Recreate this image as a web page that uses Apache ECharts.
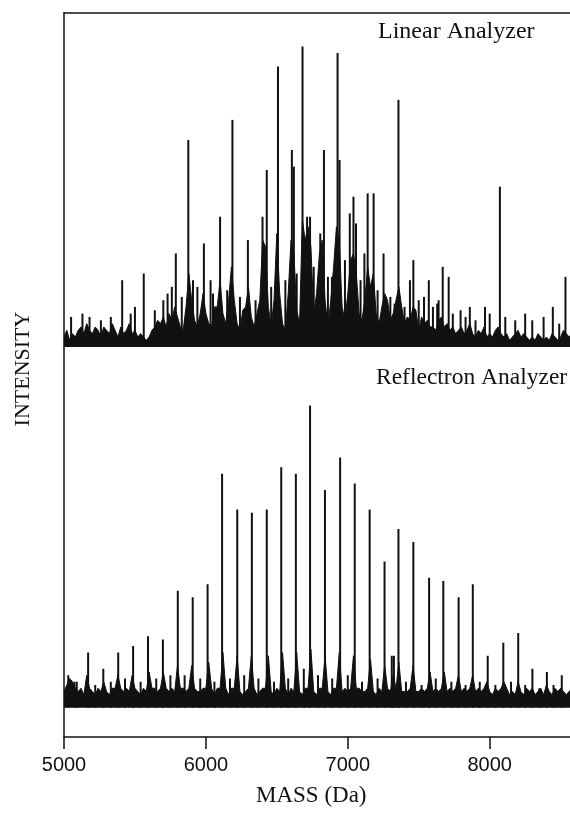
<!DOCTYPE html>
<html>
<head>
<meta charset="utf-8">
<script src="https://cdn.jsdelivr.net/npm/echarts@6/dist/echarts.min.js"></script>
<style>
  html, body { margin: 0; padding: 0; background: #fff; }
  #chart { width: 570px; height: 814px; }
</style>
</head>
<body>
<div id="chart"></div>
<script>
// x range (Da) and tick labels
var massMin = 5000;
var massMax = 8566;
var massTicks = [5000, 6000, 7000, 8000];

// noise floor, one value every 20 Da starting at 5000
var envStep = 20;
var linearEnvelope = [
  3, 5, 2, 4, 3,   5, 6, 4, 7, 5,   4, 6, 5, 3, 6,   5, 4, 7, 5, 3,
  6, 4, 5, 7, 4,   5, 3, 4, 3, 2,   3, 5, 6, 8, 7,   9, 6, 10, 8, 12,
  9, 6, 5, 12, 22, 14, 8, 6, 10, 16, 10, 7, 6, 12, 12, 20, 10, 7, 14, 24,
  14, 7, 5, 11, 12, 18, 9, 6, 10, 14, 32, 30, 12, 6, 14, 34, 16, 7, 5, 16,
  32, 28, 11, 7, 38, 32, 36, 30, 10, 16, 28, 32, 14, 6, 14, 24, 36, 32, 12, 8,
  16, 26, 28, 22, 10, 8, 14, 24, 18, 22, 10, 7, 12, 16, 14, 8, 10, 14, 18, 12,
  7, 9, 8, 12, 11, 5, 9, 7, 8, 6,   6, 5, 8, 9, 6,   7, 5, 6, 4, 5,
  6, 4, 5, 7, 4,   3, 5, 4, 6, 3,   4, 3, 5, 6, 4,   3, 4, 2, 3, 4,
  5, 3, 4, 3, 2,   3, 2, 4, 3, 2,   3, 2, 4, 3, 2,   3, 5, 4, 3, 4
];
var reflectronEnvelope = [
  5, 7, 9, 8, 6,   5, 6, 4, 10, 6,  5, 4, 6, 5, 8,   5, 4, 6, 6, 10,
  6, 5, 6, 5, 10,  6, 5, 4, 6, 5,   11, 6, 6, 5, 6,  11, 6, 5, 6, 5,
  13, 6, 6, 5, 6,  13, 6, 5, 5, 6,  6, 14, 6, 4, 6,  6, 17, 6, 4, 6,
  6, 16, 5, 4, 5,  6, 16, 6, 4, 5,  6, 6, 16, 5, 4,  6, 5, 17, 6, 4,
  6, 5, 17, 5, 4,  6, 6, 18, 5, 4,  6, 6, 16, 5, 4,  6, 6, 17, 5, 6,
  5, 6, 16, 6, 6,  5, 5, 6, 15, 5,  4, 6, 5, 13, 6,  5, 10, 6, 14, 5,
  5, 5, 6, 13, 5,  5, 6, 5, 6, 11,  5, 6, 5, 6, 11,  5, 6, 5, 6, 10,
  5, 6, 5, 6, 10,  5, 6, 5, 6, 8,   5, 4, 6, 5, 6,   8, 6, 4, 5, 4,
  8, 5, 4, 6, 5,   6, 4, 5, 6, 4,   7, 5, 4, 6, 5,   6, 5, 4, 5, 6
];

// sharp peaks [mass, intensity]
var linearPeaks = [
  [5410, 20], [5562, 22], [5788, 28], [5876, 62], [5909, 20], [5986, 31],
  [6033, 20], [6100, 39], [6187, 68], [6296, 32], [6399, 39], [6429, 53],
  [6508, 84], [6606, 59], [6620, 54], [6681, 90], [6697, 31], [6713, 39],
  [6734, 39], [6806, 34], [6832, 59], [6888, 21], [6928, 88], [6942, 56],
  [7014, 40], [7040, 45], [7058, 37], [7117, 28], [7140, 46], [7182, 46],
  [7252, 28], [7357, 74], [7438, 20], [7462, 26], [7537, 15], [7571, 20],
  [7630, 13], [7669, 24], [7711, 21], [7795, 11], [7860, 12], [7967, 12],
  [8072, 48], [8445, 12], [8534, 21]
];
var linearSpikes = [
  [5050, 9], [5130, 10], [5180, 9], [5260, 8], [5330, 9], [5470, 10],
  [5500, 12], [5640, 11], [5700, 14], [5730, 16], [5760, 18], [5830, 15],
  [5940, 18], [6050, 16], [6150, 17], [6240, 15], [6350, 14], [6460, 18],
  [6560, 20], [6640, 22], [6760, 24], [6860, 21], [6980, 26], [7090, 20],
  [7210, 17], [7300, 15], [7330, 13], [7400, 12], [7500, 14], [7600, 12],
  [7640, 14], [7740, 10], [7830, 9], [7900, 8], [8000, 10], [8110, 9],
  [8180, 8], [8250, 10], [8300, 8], [8380, 9], [8490, 7]
];
var reflectronPeaks = [
  [5074, 8], [5170, 17], [5277, 12], [5382, 17], [5487, 19], [5592, 22],
  [5697, 21], [5802, 36], [5907, 34], [6012, 38], [6114, 72], [6221, 61],
  [6324, 60], [6429, 61], [6531, 74], [6634, 72], [6734, 93], [6839, 67],
  [6946, 77], [7049, 69], [7154, 61], [7259, 45], [7325, 16], [7357, 55],
  [7462, 51], [7573, 40], [7673, 39], [7781, 34], [7881, 38], [7986, 16],
  [8096, 20], [8201, 23], [8301, 12], [8403, 11], [8508, 10]
];
var reflectronSpikes = [
  [5030, 10], [5090, 8], [5220, 7], [5330, 8], [5430, 9], [5540, 8],
  [5650, 9], [5750, 10], [5850, 10], [5960, 9], [6060, 8], [6170, 9],
  [6270, 10], [6370, 9], [6480, 8], [6580, 9], [6690, 12], [6790, 10],
  [6890, 9], [7000, 10], [7100, 8], [7210, 9], [7310, 16], [7410, 8],
  [7520, 7], [7620, 9], [7730, 8], [7830, 7], [7930, 8], [8040, 7],
  [8150, 8], [8250, 7], [8350, 6], [8450, 7]
];

function toPairs(arr) {
  var out = [];
  for (var i = 0; i < arr.length; i++) out.push([massMin + i * envStep, arr[i]]);
  return out;
}

var serif = 'Liberation Serif';
var black = '#111';

var chart = echarts.init(document.getElementById('chart'));
chart.setOption({
  animation: false,
  backgroundColor: '#fff',
  grid: [
    { left: 64, right: -4, top: 13, height: 334 },   // linear
    { left: 64, right: -4, top: 347, height: 390 }   // reflectron
  ],
  xAxis: [
    {
      gridIndex: 0, type: 'value', min: massMin, max: massMax, position: 'top',
      axisLine: { show: true, onZero: false, lineStyle: { color: black, width: 1.5 } },
      axisTick: { show: false }, axisLabel: { show: false }, splitLine: { show: false }
    },
    {
      gridIndex: 1, type: 'value', min: massMin, max: massMax, interval: 1000,
      axisLine: { show: true, onZero: false, lineStyle: { color: black, width: 1.5 } },
      axisTick: { show: true, inside: false, length: 12, lineStyle: { color: black, width: 1.5 } },
      axisLabel: {
        show: true, margin: 18, color: black, fontSize: 20, fontFamily: 'Liberation Sans',
        showMaxLabel: false,
        formatter: function (v) { return massTicks.indexOf(v) >= 0 ? String(v) : ''; }
      },
      splitLine: { show: false }
    }
  ],
  yAxis: [
    {
      gridIndex: 0, type: 'value', min: 0, max: 100,
      axisLine: { show: true, onZero: false, lineStyle: { color: black, width: 1.5 } },
      axisTick: { show: false }, axisLabel: { show: false }, splitLine: { show: false }
    },
    {
      gridIndex: 1, type: 'value', min: -9, max: 111,
      axisLine: { show: true, onZero: false, lineStyle: { color: black, width: 1.5 } },
      axisTick: { show: false }, axisLabel: { show: false }, splitLine: { show: false }
    }
  ],
  series: [
    {
      type: 'line', xAxisIndex: 0, yAxisIndex: 0, data: toPairs(linearEnvelope),
      showSymbol: false, lineStyle: { color: black, width: 1 },
      areaStyle: { color: black, opacity: 1 }
    },
    {
      type: 'bar', xAxisIndex: 0, yAxisIndex: 0, data: linearPeaks.concat(linearSpikes),
      barWidth: 2, itemStyle: { color: black }
    },
    {
      type: 'line', xAxisIndex: 1, yAxisIndex: 1, data: toPairs(reflectronEnvelope),
      showSymbol: false, lineStyle: { color: black, width: 1 },
      areaStyle: { color: black, opacity: 1, origin: 0 }
    },
    {
      type: 'bar', xAxisIndex: 1, yAxisIndex: 1, data: reflectronPeaks.concat(reflectronSpikes),
      barWidth: 2, itemStyle: { color: black }
    }
  ],
  graphic: [
    { type: 'text', left: 378, top: 20, style: { text: 'Linear Analyzer', font: '24px ' + serif, fill: black } },
    { type: 'text', left: 376, top: 366, style: { text: 'Reflectron Analyzer', font: '23.5px ' + serif, fill: black } },
    { type: 'text', left: 256, top: 784, style: { text: 'MASS (Da)', font: '23px ' + serif, fill: black } },
    {
      type: 'text', x: 23, y: 369, rotation: Math.PI / 2,
      style: { text: 'INTENSITY', font: '22px ' + serif, fill: black, align: 'center', verticalAlign: 'middle' }
    }
  ]
});
</script>
</body>
</html>
